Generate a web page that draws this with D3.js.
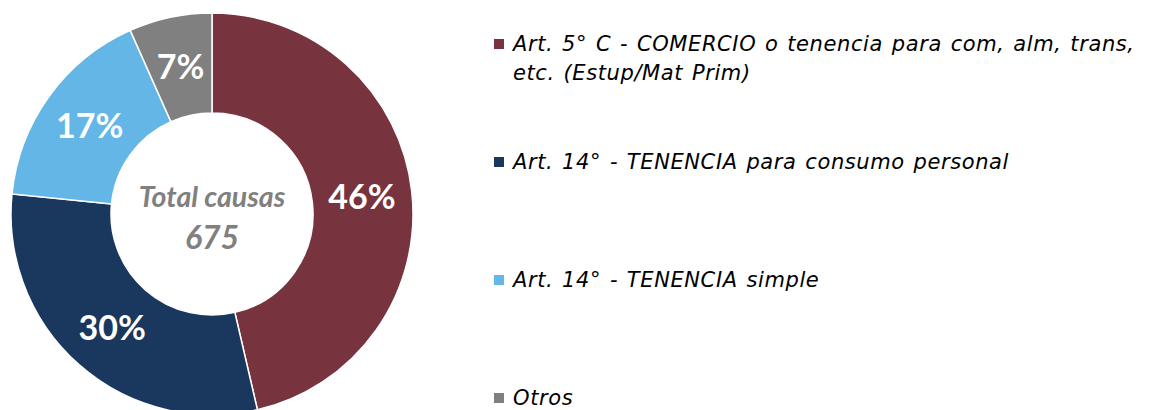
<!DOCTYPE html>
<meta charset="utf-8">
<style>
body { margin: 0; background: #fff; }
.pct { font-family: Lato, "Open Sans", sans-serif; font-weight: bold; fill: #fff; }
.center { font-family: Lato, "Open Sans", sans-serif; font-weight: bold; font-style: italic; fill: #808080; }
.legend text { font-family: "DejaVu Sans", sans-serif; font-style: italic; font-size: 21px; letter-spacing: 0.6px; word-spacing: 1.5px; fill: #000; }
</style>
<body>
<svg width="1152" height="410"></svg>
<script src="https://d3js.org/d3.v7.min.js"></script>
<script>
// causas por tipo (total 675)
var categorias = [
  ["Art. 5° C - COMERCIO o tenencia para com, alm, trans,", "etc. (Estup/Mat Prim)"],
  ["Art. 14° - TENENCIA para consumo personal"],
  ["Art. 14° - TENENCIA simple"],
  ["Otros"]
];
var causas = [313, 204, 113, 45];
var colores = ["#77343f", "#1a375e", "#63b6e6", "#808080"];
var totalLabel = "Total causas";

var total = d3.sum(causas);

var svg = d3.select("svg"),
    cx = 212, cy = 214,
    outerR = 201, innerR = 101;

var color = d3.scaleOrdinal()
    .domain(d3.range(causas.length))
    .range(colores);

var pie = d3.pie().sort(null);
var arc = d3.arc().innerRadius(innerR).outerRadius(outerR);

var g = svg.append("g")
    .attr("transform", "translate(" + cx + "," + cy + ")");

var arcs = pie(causas);

g.selectAll("path")
  .data(arcs)
  .enter().append("path")
    .attr("d", arc)
    .attr("fill", function(d, i) { return color(i); })
    .attr("stroke", "#fff")
    .attr("stroke-width", 1.5);

var fmt = d3.format(".0%");
g.selectAll("text.pct")
  .data(arcs)
  .enter().append("text")
    .attr("class", "pct")
    .attr("transform", function(d) { return "translate(" + arc.centroid(d) + ")"; })
    .attr("text-anchor", "middle")
    .attr("dy", "0.36em")
    .style("font-size", "34px")
    .text(function(d) { return fmt(d.value / total); });

g.append("text")
    .attr("class", "center")
    .attr("text-anchor", "middle")
    .attr("y", -7)
    .style("font-size", "28.5px")
    .text(totalLabel);

g.append("text")
    .attr("class", "center")
    .attr("text-anchor", "middle")
    .attr("y", 35)
    .style("font-size", "32px")
    .text(total);

// leyenda
var legend = svg.append("g").attr("class", "legend");
var item = legend.selectAll("g")
  .data(categorias)
  .enter().append("g")
    .attr("transform", function(d, i) { return "translate(494," + (44 + i * 118) + ")"; });

item.append("rect")
    .attr("y", -5)
    .attr("width", 10)
    .attr("height", 10)
    .attr("fill", function(d, i) { return color(i); });

item.append("text")
    .attr("x", 19)
    .attr("y", 7)
    .selectAll("tspan")
    .data(function(d) { return d; })
    .enter().append("tspan")
      .attr("x", 19)
      .attr("dy", function(d, i) { return i ? 29 : 0; })
      .text(function(d) { return d; });
</script>
</body>
